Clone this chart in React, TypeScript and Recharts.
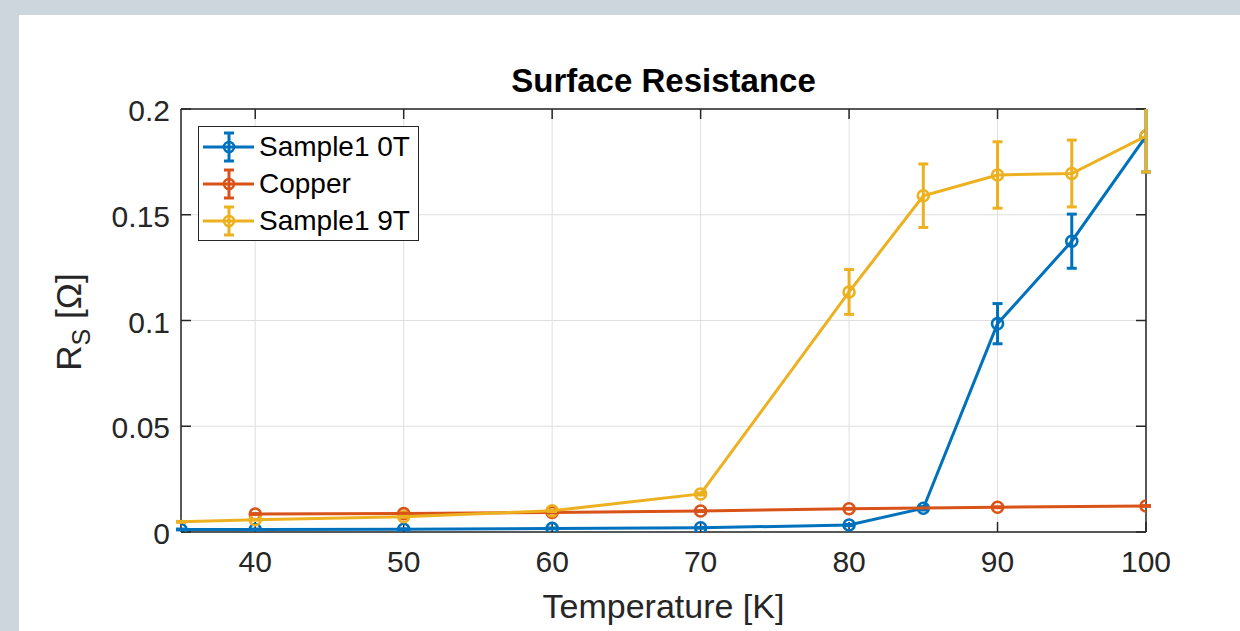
import React from 'react';
import * as RC from 'recharts';
import { LineChart, Line, XAxis, YAxis, CartesianGrid, ErrorBar, Legend } from 'recharts';

const FONT = "'Liberation Sans', Arial, Helvetica, sans-serif";
const AXIS = '#262626';
const GRID = '#dfdfdf';

// ---- data ----
const xTicks = [40, 50, 60, 70, 80, 90, 100];
const yTicks = [0, 0.05, 0.1, 0.15, 0.2];
const yTickLabels = ['0', '0.05', '0.1', '0.15', '0.2'];
const xDomain = [35, 100];
const yDomain = [0, 0.2];

const temps0T = [35, 40, 50, 60, 70, 80, 85, 90, 95, 100];
const rs0T = [0.0012, 0.0012, 0.0013, 0.0017, 0.002, 0.0033, 0.0112, 0.0985, 0.1375, 0.1872];
const err0T = [0.0002, 0.0002, 0.0002, 0.0002, 0.0002, 0.0003, 0.0008, 0.0095, 0.0128, 0.017];

const tempsCu = [40, 50, 60, 70, 80, 90, 100];
const rsCu = [0.0085, 0.0087, 0.0092, 0.0099, 0.011, 0.0117, 0.0123];
const errCu = [0.0002, 0.0002, 0.0002, 0.0002, 0.0002, 0.0002, 0.0002];

const temps9T = [35, 40, 50, 60, 70, 80, 85, 90, 95, 100];
const rs9T = [0.0048, 0.0058, 0.0072, 0.01, 0.018, 0.1135, 0.159, 0.1688, 0.1695, 0.1872];
const err9T = [0.0002, 0.0002, 0.0002, 0.0003, 0.0005, 0.0106, 0.015, 0.0157, 0.0158, 0.017];

const seriesNames = ['Sample1 0T', 'Copper', 'Sample1 9T'];
const seriesColors = ['#0072BD', '#D95319', '#EDB120'];

const build = (ts: number[], rs: number[], es: number[]) =>
  ts.map((t, i) => ({ t, r: rs[i], e: es[i] }));

const data0T = build(temps0T, rs0T, err0T);
const dataCu = build(tempsCu, rsCu, errCu);
const data9T = build(temps9T, rs9T, err9T);

const LW = 3;

// ---- render helpers ----
const XTick = (props: any) => {
  const { x, y, payload } = props;
  return (
    <text x={x} y={y + 40} textAnchor="middle" fontFamily={FONT} fontSize={30} fill={AXIS}>
      {String(payload.value)}
    </text>
  );
};

const YTick = (props: any) => {
  const { x, y, payload } = props;
  const idx = yTicks.indexOf(payload.value);
  const label = idx >= 0 ? yTickLabels[idx] : String(payload.value);
  return (
    <text x={x - 11} y={y + 12} textAnchor="end" fontFamily={FONT} fontSize={30} fill={AXIS}>
      {label}
    </text>
  );
};

const EmptyTick = () => <g />;

const makeDot = (color: string, skipAtMin: boolean) => (props: any) => {
  const { cx, cy, payload, index } = props;
  if (skipAtMin && payload && payload.t <= xDomain[0]) return <g key={`d-${index}`} />;
  return (
    <circle key={`d-${index}`} cx={cx} cy={cy} r={5.5} fill="none" stroke={color} strokeWidth={2.6} />
  );
};

const renderLegend = () => (
  <div
    style={{
      position: 'relative',
      width: 221,
      height: 115,
      boxSizing: 'border-box',
      border: `1.5px solid ${AXIS}`,
      background: '#fff',
    }}
  >
    {seriesNames.map((name, i) => (
      <div
        key={name}
        style={{ position: 'absolute', left: 0, top: 21 + i * 37 - 1.5 - 18, height: 36, width: 218 }}
      >
        <svg width={60} height={36} style={{ position: 'absolute', left: 4, top: 0 }}>
          <line x1={0} y1={18} x2={51} y2={18} stroke={seriesColors[i]} strokeWidth={LW} />
          <line x1={26} y1={4} x2={26} y2={32} stroke={seriesColors[i]} strokeWidth={LW} />
          <line x1={21} y1={4} x2={31} y2={4} stroke={seriesColors[i]} strokeWidth={LW} />
          <line x1={21} y1={32} x2={31} y2={32} stroke={seriesColors[i]} strokeWidth={LW} />
          <circle cx={26} cy={18} r={5} fill="none" stroke={seriesColors[i]} strokeWidth={2.6} />
        </svg>
        <span
          style={{
            position: 'absolute',
            left: 60,
            top: 0,
            lineHeight: '36px',
            fontFamily: FONT,
            fontSize: 28,
            color: '#000',
            whiteSpace: 'nowrap',
          }}
        >
          {name}
        </span>
      </div>
    ))}
  </div>
);

const TitleLabel = (props: any) => {
  const vb = props.viewBox || {};
  return (
    <text
      x={vb.x + vb.width / 2}
      y={vb.y - 16}
      textAnchor="middle"
      fontFamily={FONT}
      fontWeight="bold"
      fontSize={33}
      fill="#000"
    >
      Surface Resistance
    </text>
  );
};

const XLabel = (props: any) => {
  const vb = props.viewBox || {};
  return (
    <text x={vb.x + vb.width / 2} y={vb.y + 86} textAnchor="middle" fontFamily={FONT} fontSize={34} fill={AXIS}>
      Temperature [K]
    </text>
  );
};

const YLabel = (props: any) => {
  const vb = props.viewBox || {};
  const cx = vb.x + vb.width - 100;
  const cy = vb.y + vb.height / 2 + 1.5;
  return (
    <text
      x={cx}
      y={cy}
      transform={`rotate(-90, ${cx}, ${cy})`}
      textAnchor="middle"
      fontFamily={FONT}
      fontSize={35}
      fill={AXIS}
    >
      <tspan>R</tspan>
      <tspan fontSize={25} dy={9}>S</tspan>
      <tspan dy={-9}> [Ω]</tspan>
    </text>
  );
};

// clip error bars vertically to the plot area (as the reference does)
const usePlotAreaHook: any = (RC as any).usePlotArea || (() => null);
const PlotClip = () => {
  const area = usePlotAreaHook();
  if (!area) return null;
  return (
    <defs>
      <clipPath id="plot-area-clip">
        <rect x={area.x - 20} y={area.y} width={area.width + 40} height={area.height} />
      </clipPath>
    </defs>
  );
};

const seriesData = [data0T, dataCu, data9T];
const skipFirstMarker = [false, false, true];

export default function App() {
  return (
    <div
      style={{
        position: 'fixed',
        left: 0,
        top: 0,
        width: 1240,
        height: 631,
        background: '#cdd6dd',
        overflow: 'hidden',
      }}
    >
      <style>{'.recharts-errorBars { clip-path: url(#plot-area-clip); }'}</style>
      <div style={{ position: 'absolute', left: 19, top: 15, width: 1221, height: 616, background: '#fff' }} />
      <div style={{ position: 'absolute', left: 0, top: 0 }}>
        <LineChart width={1240} height={631} margin={{ top: 108, right: 93, bottom: 59, left: 121 }}>
          <PlotClip />
          <CartesianGrid stroke={GRID} strokeWidth={1} xAxisId={0} yAxisId={0} />
          <XAxis
            xAxisId={0}
            type="number"
            dataKey="t"
            domain={xDomain}
            ticks={xTicks}
            interval={0}
            allowDataOverflow
            height={40}
            stroke={AXIS}
            strokeWidth={1.5}
            tickSize={-10}
            tickMargin={10}
            tick={<XTick />}
            label={<XLabel />}
          />
          <XAxis
            xAxisId="top"
            orientation="top"
            type="number"
            dataKey="t"
            domain={xDomain}
            ticks={xTicks}
            interval={0}
            allowDataOverflow
            height={1}
            stroke={AXIS}
            strokeWidth={1.5}
            tickSize={-10}
            tick={<EmptyTick />}
            label={<TitleLabel />}
          />
          <YAxis
            yAxisId={0}
            type="number"
            domain={yDomain}
            ticks={yTicks}
            interval={0}
            allowDataOverflow
            width={60}
            stroke={AXIS}
            strokeWidth={1.5}
            tickSize={-10}
            tickMargin={10}
            tick={<YTick />}
            label={<YLabel />}
          />
          <YAxis
            yAxisId="right"
            orientation="right"
            type="number"
            domain={yDomain}
            ticks={yTicks}
            interval={0}
            allowDataOverflow
            width={1}
            stroke={AXIS}
            strokeWidth={1.5}
            tickSize={-10}
            tick={<EmptyTick />}
          />
          <Legend
            layout="vertical"
            align="center"
            verticalAlign="middle"
            wrapperStyle={{ left: 198, top: 126, width: 221, height: 115 }}
            content={renderLegend}
          />
          {seriesNames.map((name, i) => (
            <Line
              key={name}
              xAxisId={0}
              yAxisId={0}
              data={seriesData[i]}
              dataKey="r"
              name={name}
              type="linear"
              stroke={seriesColors[i]}
              strokeWidth={LW}
              dot={makeDot(seriesColors[i], skipFirstMarker[i])}
              activeDot={false}
              isAnimationActive={false}
              {...({ zIndex: 700 + i * 10 } as any)}
            >
              <ErrorBar
                dataKey="e"
                direction="y"
                width={5}
                strokeWidth={LW}
                stroke={seriesColors[i]}
                isAnimationActive={false}
                {...({ zIndex: 705 + i * 10 } as any)}
              />
            </Line>
          ))}
        </LineChart>
      </div>
    </div>
  );
}
